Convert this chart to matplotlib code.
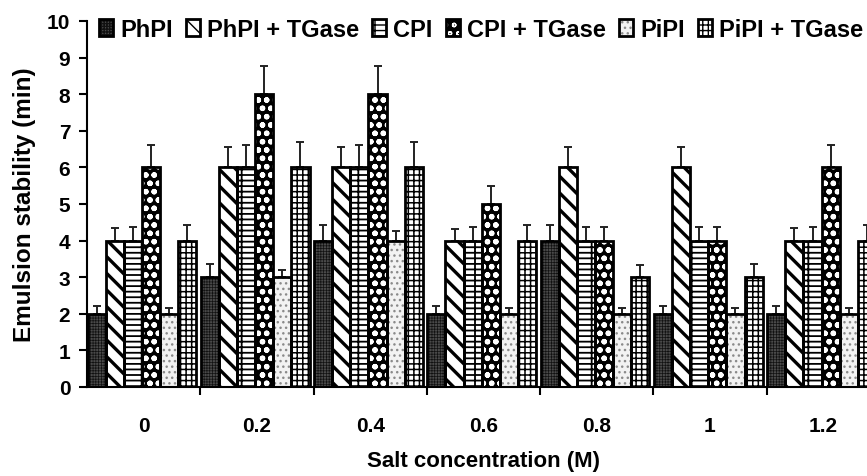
import numpy as np
import matplotlib.pyplot as plt
from matplotlib.legend_handler import HandlerTuple

# Data
salt = ['0', '0.2', '0.4', '0.6', '0.8', '1', '1.2']
series = ['PhPI', 'PhPI + TGase', 'CPI', 'CPI + TGase', 'PiPI', 'PiPI + TGase']

phpi = [2, 3, 4, 2, 4, 2, 2]
phpi_tg = [4, 6, 6, 4, 6, 6, 4]
cpi = [4, 6, 6, 4, 4, 4, 4]
cpi_tg = [6, 8, 8, 5, 4, 4, 6]
pipi = [2, 3, 4, 2, 2, 2, 2]
pipi_tg = [4, 6, 6, 4, 3, 3, 4]

phpi_err = [0.2, 0.35, 0.43, 0.2, 0.43, 0.2, 0.2]
phpi_tg_err = [0.35, 0.55, 0.55, 0.33, 0.55, 0.55, 0.35]
cpi_err = [0.38, 0.6, 0.6, 0.38, 0.38, 0.38, 0.38]
cpi_tg_err = [0.6, 0.77, 0.77, 0.5, 0.38, 0.38, 0.6]
pipi_err = [0.16, 0.2, 0.27, 0.17, 0.17, 0.15, 0.15]
pipi_tg_err = [0.42, 0.69, 0.69, 0.43, 0.34, 0.35, 0.42]

values = [phpi, phpi_tg, cpi, cpi_tg, pipi, pipi_tg]
errors = [phpi_err, phpi_tg_err, cpi_err, cpi_tg_err, pipi_err, pipi_tg_err]

# (face, hatch, hatch colour, hatch linewidth)
styles = [
    ('#4a4a4a', '++++++', '#111111', 0.5),
    ('white', '\\\\', 'black', 2.4),
    ('white', '---|', 'black', 1.3),
    ('black', 'oo', 'white', 1.6),
    ('#f2f2f2', '...', '#8a8a8a', 1.0),
    ('white', '+++', 'black', 1.1),
]

plt.rcParams['font.family'] = ['Liberation Sans', 'DejaVu Sans']
plt.rcParams['font.weight'] = 'bold'

fig = plt.figure(figsize=(8.67, 4.77), dpi=100)
ax = fig.add_axes([0.1003, 0.1866, 0.9146, 0.7673])

x = np.arange(len(salt))
w = 0.16
handles = []
for k in range(6):
    face, hatch, hcol, hlw = styles[k]
    pos = x - 0.415 + k * w
    fill = ax.bar(pos, values[k], w, color=face, edgecolor=hcol,
                  hatch=hatch, linewidth=0, zorder=2)
    for p in fill:
        if hasattr(p, 'set_hatch_linewidth'):
            p.set_hatch_linewidth(hlw)
    outline = ax.bar(pos, values[k], w, fill=False, edgecolor='black',
                     linewidth=2, zorder=3)
    ax.errorbar(pos, values[k], yerr=[np.zeros(len(salt)), errors[k]],
                fmt='none', ecolor='#222222', elinewidth=1.4, capsize=3,
                capthick=1.4, zorder=1)
    handles.append((fill, outline))

ax.set_xlim(-0.5, len(salt) - 0.5)
ax.set_ylim(0, 10)
ax.set_yticks(range(0, 11))
ax.set_xticks(x)
ax.set_xticklabels(salt)
ax.set_xticks(x + 0.5, minor=True)
ax.tick_params(axis='x', which='major', length=0, pad=21, labelsize=15)
ax.tick_params(axis='x', which='minor', length=6, width=1.5, direction='out')
ax.tick_params(axis='y', length=6, width=1.5, labelsize=15, pad=6)
for s in ['top', 'right']:
    ax.spines[s].set_visible(False)
for s in ['left', 'bottom']:
    ax.spines[s].set_linewidth(1.5)

ax.set_ylabel('Emulsion stability (min)', fontsize=17.5, fontweight='bold', labelpad=8)
ax.set_xlabel('Salt concentration (M)', fontsize=16, fontweight='bold', labelpad=11)

leg = fig.legend(handles, series, loc='center left', bbox_to_anchor=(0.114, 0.937),
                 ncol=6, frameon=False, fontsize=17, handlelength=0.6,
                 handleheight=0.7, handletextpad=0.3, columnspacing=0.55,
                 borderpad=0, borderaxespad=0,
                 handler_map={tuple: HandlerTuple(ndivide=1)})

fig.savefig('out.png', dpi=100)
